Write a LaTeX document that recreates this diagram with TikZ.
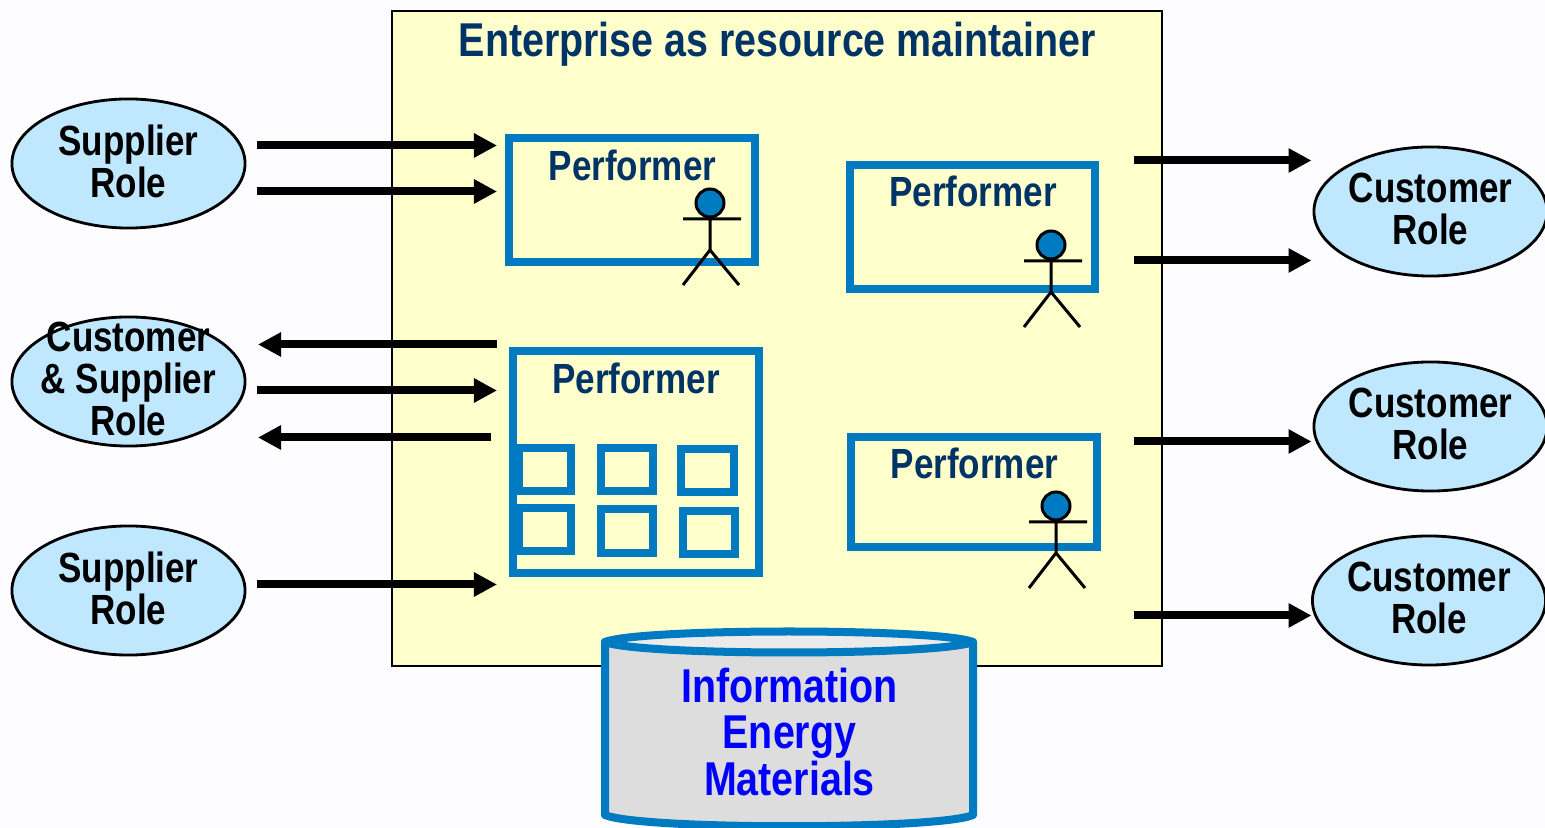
\documentclass[tikz,border=0pt]{standalone}
\usepackage{fontspec}
\setmainfont{Liberation Sans}[FakeStretch=0.83]
\usetikzlibrary{arrows.meta,shapes.geometric}
\definecolor{pagebg}{HTML}{FDFDFF}
\definecolor{boxyellow}{HTML}{FFFFCC}
\definecolor{roleblue}{HTML}{BFE8FF}
\definecolor{edgeblue}{HTML}{007AC0}
\definecolor{navytext}{HTML}{003366}
\definecolor{drumgrey}{HTML}{DDDDDD}
\tikzset{
  role/.style={ellipse,draw,fill=roleblue,line width=0.8pt,minimum width=2.33cm,minimum height=1.29cm,inner sep=-0.6cm,text depth=0.05cm,align=center,font=\fontsize{12}{11.9}\selectfont\bfseries},
  performer/.style={draw=edgeblue,line width=0.08cm},
  cell/.style={draw=edgeblue,line width=0.08cm,minimum width=0.52cm,minimum height=0.43cm,inner sep=0pt},
  label/.style={text=navytext,font=\fontsize{12}{12}\selectfont\bfseries},
  flow/.style={line width=0.08cm,-{Triangle[length=0.23cm,width=0.23cm]}},
  actor/.pic={
    \draw[line width=0.03cm] (0,16) -- (0,47) (-27,16) -- (31,16) (-27,82) -- (0,47) -- (29,82);
    \draw[line width=0.03cm,fill=edgeblue] (0,0) circle (14);
  }
}
\begin{document}
\begin{tikzpicture}[x=0.01cm,y=-0.01cm]
  \fill[pagebg] (0,0) rectangle (1545,828);
  \useasboundingbox (0,0) rectangle (1545,828);
  \draw[fill=boxyellow,line width=0.8pt] (392,11) rectangle (1162,666);
  \node[text=navytext,font=\fontsize{13.5}{13.5}\selectfont\bfseries] (title) at (777.5,44) {Enterprise as resource maintainer};
  % performers
  \draw[performer] (509,138) rectangle (755,262);
  \draw[performer] (850,165) rectangle (1095,289);
  \draw[performer] (513,351) rectangle (759,573);
  \draw[performer] (851,437) rectangle (1097,547);
  \node[label] (perfa) at (632.5,165) {Performer};
  \node[label] (perfb) at (973,191) {Performer};
  \node[label] (perfc) at (636,378) {Performer};
  \node[label] (perfd) at (974.5,463) {Performer};
  \pic at (710,203) {actor};
  \pic at (1051,245) {actor};
  \pic at (1056,506) {actor};
  \foreach \x/\y [count=\i] in {545/469.5,627/469.5,707.5/470.5,545/529.5,627/531,709/532.5}
    \node[cell] (cell\i) at (\x,\y) {};
  % roles
  \node[role] (supa) at (128.5,163.5) {Supplier\\Role};
  \node[role] (both) at (128.5,381.5) {Customer\\\& Supplier\\Role};
  \node[role] (supb) at (128.5,590.5) {Supplier\\Role};
  \node[role] (cusa) at (1430.5,211.5) {Customer\\Role};
  \node[role] (cusb) at (1430.5,426.5) {Customer\\Role};
  \node[role] (cusc) at (1429,600.5) {Customer\\Role};
  % flows
  \coordinate (ina) at (497,145.5); \coordinate (ina0) at (257,145.5);
  \coordinate (inb) at (497,191.5); \coordinate (inb0) at (257,191.5);
  \coordinate (inc) at (497,344.5); \coordinate (inc0) at (258,344.5);
  \coordinate (ind) at (497,390.5); \coordinate (ind0) at (257,390.5);
  \coordinate (ine) at (491,437.5); \coordinate (ine0) at (258,437.5);
  \coordinate (inf) at (497,584.5); \coordinate (inf0) at (257,584.5);
  \coordinate (outa) at (1134,160.5); \coordinate (outa1) at (1311.5,160.5);
  \coordinate (outb) at (1134,260.5); \coordinate (outb1) at (1311.5,260.5);
  \coordinate (outc) at (1134,441.5); \coordinate (outc1) at (1311.5,441.5);
  \coordinate (outd) at (1134,615.5); \coordinate (outd1) at (1311.5,615.5);
  \draw[flow] (ina0)--(ina);
  \draw[flow] (inb0)--(inb);
  \draw[flow] (inc)--(inc0);
  \draw[flow] (ind0)--(ind);
  \draw[flow] (ine)--(ine0);
  \draw[flow] (inf0)--(inf);
  \draw[flow] (outa)--(outa1);
  \draw[flow] (outb)--(outb1);
  \draw[flow] (outc)--(outc1);
  \draw[flow] (outd)--(outd1);
  % drum
  \draw[draw=edgeblue,fill=drumgrey,line width=0.08cm,line join=round] (605,642) -- (605,815) .. controls (640,830) and (938,830) .. (973,815) -- (973,642) -- cycle;
  \draw[draw=edgeblue,fill=black!8,line width=0.08cm,line join=round] (605,642) .. controls (640,628) and (938,628) .. (973,642) .. controls (938,656) and (640,656) .. (605,642) -- cycle;
  \node[align=center,text=blue,font=\fontsize{13.5}{13.1}\selectfont\bfseries] (store) at (789.5,732) {Information\\Energy\\Materials};
\end{tikzpicture}
\end{document}
